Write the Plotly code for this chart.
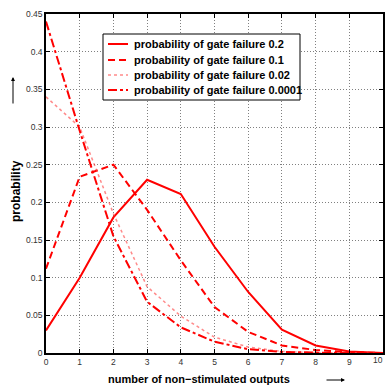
import plotly.graph_objects as go

x_outputs = [0, 1, 2, 3, 4, 5, 6, 7, 8, 9, 10]
p_02 = [0.03, 0.10, 0.18, 0.23, 0.211, 0.141, 0.081, 0.031, 0.010, 0.002, 0.0]
p_01 = [0.112, 0.234, 0.25, 0.19, 0.123, 0.061, 0.028, 0.010, 0.004, 0.001, 0.0]
p_002 = [0.34, 0.30, 0.185, 0.088, 0.049, 0.021, 0.008, 0.002, 0.0005, 0.0, 0.0]
p_00001 = [0.44, 0.295, 0.155, 0.068, 0.034, 0.015, 0.005, 0.0015, 0.0005, 0.0, 0.0]

names = ["probability of gate failure 0.2", "probability of gate failure 0.1",
         "probability of gate failure 0.02", "probability of gate failure 0.0001"]
y_ticks = [0, 0.05, 0.1, 0.15, 0.2, 0.25, 0.3, 0.35, 0.4, 0.45]
y_tick_text = ["0", "0.05", "0.1", "0.15", "0.2", "0.25", "0.3", "0.35", "0.4", "0.45"]

FONT = "Liberation Sans, Arial, sans-serif"
L, R, T, B = 46, 383, 14, 353
W = R - L
H = B - T


def px(xp):
    return (xp - L) / W


def py(yp):
    return (B - yp) / H


fig = go.Figure()
styles = [
    dict(color="#ff0000", width=2, dash="solid"),
    dict(color="#ff0000", width=2, dash="7px,4px"),
    dict(color="rgba(255,60,60,0.6)", width=1.5, dash="dot"),
    dict(color="#ff0000", width=2, dash="dashdot"),
]
for ys, nm, st in zip([p_02, p_01, p_002, p_00001], names, styles):
    fig.add_trace(go.Scatter(x=x_outputs, y=ys, mode="lines", name=nm, line=st,
                             showlegend=False))

tick_font = dict(family=FONT, size=8.5, color="#333")
axis_common = dict(
    showline=True, linecolor="black", linewidth=1.5, mirror="ticks",
    ticks="inside", ticklen=4, tickcolor="black", tickwidth=1,
    showgrid=True, gridcolor="#808080", griddash="1px,2px", gridwidth=1,
    zeroline=False, tickfont=tick_font, automargin=False,
)
fig.update_xaxes(range=[0, 10], tickmode="array", tickvals=x_outputs,
                 ticktext=[str(v) for v in x_outputs], **axis_common)
fig.update_yaxes(range=[0, 0.45], tickmode="array", tickvals=y_ticks,
                 ticktext=y_tick_text, **axis_common)

# custom legend box
shapes = [dict(type="rect", xref="paper", yref="paper",
               x0=px(103), x1=px(300), y0=py(100), y1=py(34),
               line=dict(color="black", width=1), fillcolor="white", layer="above")]
annotations = []
legend_rows = [44, 60, 75, 90]
for row_y, nm, st in zip(legend_rows, names, styles):
    shapes.append(dict(type="line", xref="paper", yref="paper",
                       x0=px(108), x1=px(128), y0=py(row_y), y1=py(row_y),
                       line=dict(color=st["color"], width=st["width"], dash=st["dash"]),
                       layer="above"))
    annotations.append(dict(text=nm, xref="paper", yref="paper", x=px(132), y=py(row_y),
                            xanchor="left", yanchor="middle", showarrow=False,
                            font=dict(family=FONT, size=11, color="black", weight="bold")))

annotations += [
    # last x tick label sits at the very right edge of the figure
    dict(text=str(x_outputs[-1]), xref="paper", yref="paper", x=px(385), y=py(360),
         xanchor="right", yanchor="middle", showarrow=False, font=tick_font),
    dict(text="number of non\u2212stimulated outputs", xref="paper", yref="paper",
         x=px(199), y=py(379), showarrow=False,
         font=dict(family=FONT, size=11, color="black", weight="bold"),
         xanchor="center", yanchor="middle"),
    dict(text="probability", xref="paper", yref="paper",
         x=px(16), y=py(191), showarrow=False, textangle=-90,
         font=dict(family=FONT, size=12, color="black", weight="bold"),
         xanchor="center", yanchor="middle"),
    dict(text="", xref="paper", yref="paper",
         x=px(345), y=py(380), ax=-20, ay=0,
         showarrow=True, arrowhead=2, arrowsize=0.8, arrowwidth=1, arrowcolor="black"),
    dict(text="", xref="paper", yref="paper",
         x=px(13), y=py(77), ax=0, ay=28,
         showarrow=True, arrowhead=2, arrowsize=0.8, arrowwidth=1, arrowcolor="black"),
]

fig.update_layout(
    width=385, height=385,
    margin=dict(l=L, r=385 - R, t=T, b=385 - B),
    paper_bgcolor="white", plot_bgcolor="white",
    showlegend=False,
    shapes=shapes,
    annotations=annotations,
)

fig.write_html("out.html", config={"displayModeBar": False},
               post_script="document.body.style.margin='0';document.body.style.padding='0';")
